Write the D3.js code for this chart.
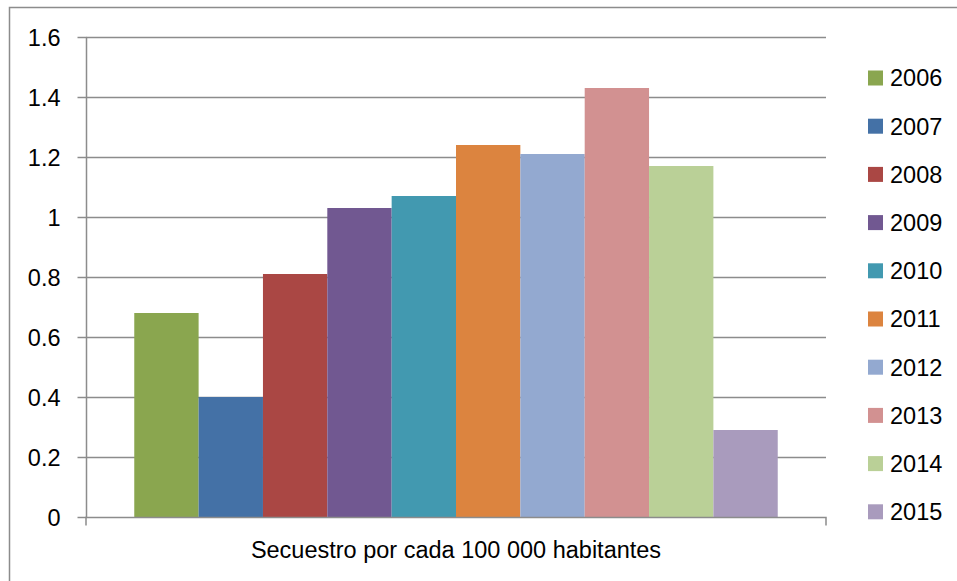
<!DOCTYPE html>
<html>
<head>
<meta charset="utf-8">
<script src="https://cdn.jsdelivr.net/npm/d3@7"></script>
<style>
  body { margin: 0; background: #fff; }
  text { font-family: "Liberation Sans", Arial, sans-serif; fill: #000; }
</style>
</head>
<body>
<div id="chart"></div>
<script>
const years = ["2006", "2007", "2008", "2009", "2010", "2011", "2012", "2013", "2014", "2015"];
const values = [0.68, 0.40, 0.81, 1.03, 1.07, 1.24, 1.21, 1.43, 1.17, 0.29];
const colors = ["#8aa64f", "#4471a6", "#aa4744", "#715891", "#4299b0", "#dc843f", "#93a9d0", "#d29191", "#bad097", "#a99bbd"];
const yTicks = [0, 0.2, 0.4, 0.6, 0.8, 1, 1.2, 1.4, 1.6];
const categoryLabel = "Secuestro por cada 100 000 habitantes";

const W = 957, H = 581;
const plot = { left: 86, right: 826, top: 37, bottom: 517 };
const fontSize = "23.5px";

const svg = d3.select("#chart").append("svg")
    .attr("width", W)
    .attr("height", H);

// outer chart border (runs off the picture on right/bottom)
svg.append("rect")
    .attr("x", 9.5).attr("y", 7.5)
    .attr("width", W).attr("height", H)
    .attr("fill", "none")
    .attr("stroke", "#8c8c8c")
    .attr("stroke-width", 1.5);

const y = d3.scaleLinear()
    .domain([0, 1.6])
    .range([plot.bottom, plot.top]);

// one category, bars side by side inside it with 150% gap
const outer = d3.scaleBand()
    .domain([categoryLabel])
    .range([plot.left, plot.right]);
const x = d3.scaleBand()
    .domain(years)
    .range([plot.left, plot.right])
    .paddingOuter(0.75)
    .paddingInner(0);

// gridlines
svg.append("g")
    .selectAll("line")
    .data(yTicks.filter(d => d > 0))
    .enter().append("line")
    .attr("x1", plot.left).attr("x2", plot.right)
    .attr("y1", d => Math.round(y(d)) + 0.5)
    .attr("y2", d => Math.round(y(d)) + 0.5)
    .attr("stroke", "#8c8c8c")
    .attr("stroke-width", 1.5);

// bars
svg.append("g")
    .selectAll("rect")
    .data(values)
    .enter().append("rect")
    .attr("x", (d, i) => x(years[i]))
    .attr("width", x.bandwidth())
    .attr("y", d => y(d))
    .attr("height", d => y(0) - y(d))
    .attr("fill", (d, i) => colors[i]);

// y axis
const yAxis = svg.append("g")
    .attr("transform", `translate(${plot.left}.5,0)`)
    .call(d3.axisLeft(y).tickValues(yTicks).tickSize(9).tickPadding(17)
        .tickFormat(d => d3.format("")(+d.toFixed(1))));
yAxis.selectAll("line, path").attr("stroke", "#8c8c8c").attr("stroke-width", 1.5);
yAxis.select(".domain").attr("d", `M0,${plot.top}V${plot.bottom}`);
yAxis.selectAll("text")
    .style("font-size", fontSize)
    .style("font-family", "'Liberation Sans', Arial, sans-serif")
    .attr("dy", "0.36em");

// x axis (single category)
const xAxis = svg.append("g")
    .attr("transform", `translate(0,${plot.bottom}.5)`)
    .call(d3.axisBottom(outer).tickSize(0).tickPadding(24));
xAxis.select(".domain").attr("stroke", "#8c8c8c").attr("stroke-width", 1.5)
    .attr("d", `M${plot.left},8V0H${plot.right}V8`);
xAxis.selectAll("text")
    .style("font-size", fontSize)
    .style("font-family", "'Liberation Sans', Arial, sans-serif");

// legend
const legend = svg.append("g")
    .selectAll("g")
    .data(years)
    .enter().append("g")
    .attr("transform", (d, i) => `translate(868,${78 + i * 48.2})`);
legend.append("rect")
    .attr("x", 0).attr("y", -7.5)
    .attr("width", 15).attr("height", 15)
    .attr("fill", (d, i) => colors[i]);
legend.append("text")
    .attr("x", 22)
    .attr("y", 0)
    .attr("dy", "0.36em")
    .style("font-size", fontSize)
    .text(d => d);
</script>
</body>
</html>
